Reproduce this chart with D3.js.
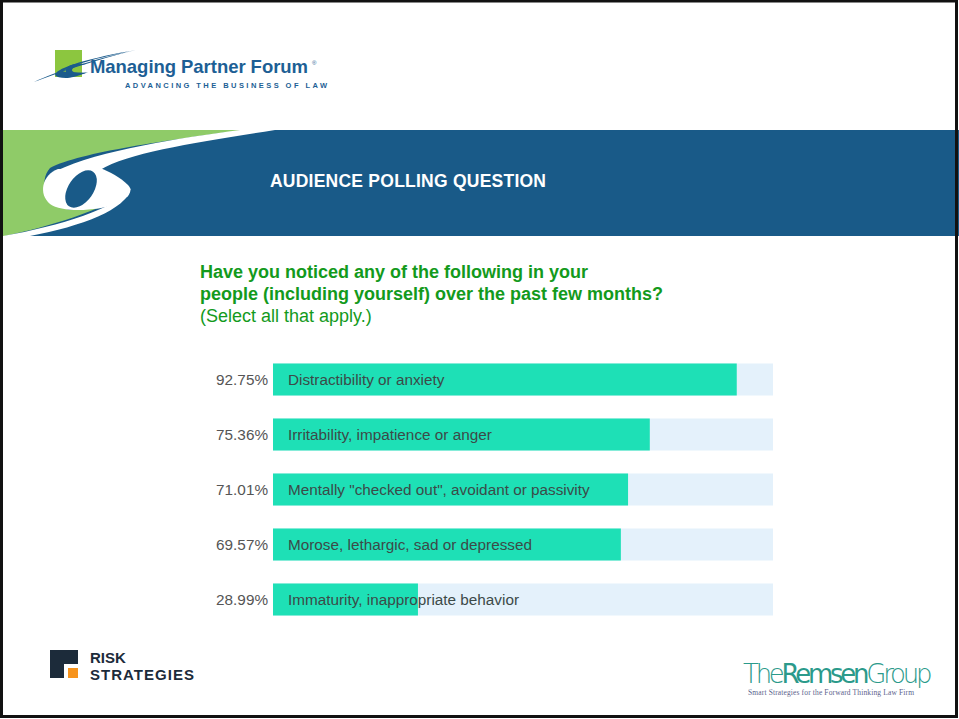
<!DOCTYPE html>
<html>
<head>
<meta charset="utf-8">
<script src="https://cdn.jsdelivr.net/npm/d3@7"></script>
<style>
  html, body { margin: 0; padding: 0; background: #fff; }
  svg { display: block; }
</style>
</head>
<body>
<svg id="slide" width="959" height="719"></svg>
<script>
// Poll answers and the share of respondents who picked each one
const categories = [
  "Distractibility or anxiety",
  "Irritability, impatience or anger",
  "Mentally \"checked out\", avoidant or passivity",
  "Morose, lethargic, sad or depressed",
  "Immaturity, inappropriate behavior"
];
const values = [92.75, 75.36, 71.01, 69.57, 28.99];
const questionLines = [
  "Have you noticed any of the following in your",
  "people (including yourself) over the past few months?"
];
const questionNote = "(Select all that apply.)";
const bannerTitle = "AUDIENCE POLLING QUESTION";

const svg = d3.select("#slide");
const FONT = "Liberation Sans, Arial, Helvetica, sans-serif";

svg.append("rect").attr("x", 0).attr("y", 0).attr("width", 959).attr("height", 719).attr("fill", "#fff");

// ---- top logo: Managing Partner Forum ----
const logo = svg.append("g");
logo.append("rect").attr("x", 55).attr("y", 50).attr("width", 27).attr("height", 27).attr("fill", "#8cc63f");
logo.append("path")
  .attr("d", "M34,82 C60,72 95,60 136,50 C100,56 70,64 60,70 C52,74 54,78 66,78 C70,78 78,76 86,73 C78,72 66,73 62,71 C70,66 95,58 136,50 C90,60 55,72 34,82 Z")
  .attr("fill", "#1b5b8c");
logo.append("path")
  .attr("d", "M86,64 C74,62 64,66 66,72 C68,76 80,76 88,72 C80,74 72,73 72,70 C72,67 80,65 86,64 Z")
  .attr("fill", "#1b5b8c");
logo.append("text").attr("x", 90).attr("y", 73)
  .attr("font-family", FONT).attr("font-weight", "bold").attr("font-size", 18.5)
  .attr("fill", "#1d5f95").attr("textLength", 218).text("Managing Partner Forum");
logo.append("text").attr("x", 312).attr("y", 65)
  .attr("font-family", FONT).attr("font-size", 6).attr("fill", "#1d5f95").text("®");
logo.append("text").attr("x", 125).attr("y", 88)
  .attr("font-family", FONT).attr("font-weight", "bold").attr("font-size", 7.5)
  .attr("fill", "#1d5f95").attr("textLength", 204).attr("letter-spacing", 2)
  .text("ADVANCING THE BUSINESS OF LAW");

// ---- banner with the green field and white S swoosh ----
const banner = svg.append("g");
banner.append("rect").attr("x", 0).attr("y", 130).attr("width", 959).attr("height", 106).attr("fill", "#195a88");
banner.append("path")
  .attr("d", "M0,130 L244,130 C170,140 80,152 50,168 C38,182 46,204 70,210 C95,206 120,198 130,190 C100,212 50,226 5,236 L0,236 Z")
  .attr("fill", "#8fcb68");
// upper arm of the swoosh
banner.append("path")
  .attr("d", "M240,130 L275,130 C200,142 130,152 100,170 L56,171 C100,150 180,138 240,130 Z")
  .attr("fill", "#fff");
// loop of the S, rounded at its right end
banner.append("path")
  .attr("d", "M58,169 C42,175 38,194 50,204 C62,213 98,211 116,204 C128,199 134,191 128,185 C120,177 110,172 100,168 Z")
  .attr("fill", "#fff");
// tail of the swoosh
banner.append("path")
  .attr("d", "M131,188 C118,208 60,226 3,236 L30,236 C82,226 126,210 131,188 Z")
  .attr("fill", "#fff");
// blue eye inside the loop
banner.append("ellipse").attr("cx", 81).attr("cy", 189).attr("rx", 21).attr("ry", 12.5)
  .attr("transform", "rotate(-55 81 189)").attr("fill", "#195a88");
banner.append("text").attr("x", 270).attr("y", 187)
  .attr("font-family", FONT).attr("font-weight", "bold").attr("font-size", 17.5)
  .attr("fill", "#fff").attr("textLength", 276).text(bannerTitle);

// ---- question ----
const q = svg.append("g").attr("font-family", FONT).attr("fill", "#139a1c");
questionLines.forEach((line, i) => {
  q.append("text").attr("x", 200).attr("y", 278 + i * 22)
    .attr("font-weight", "bold").attr("font-size", 18).text(line);
});
q.append("text").attr("x", 200).attr("y", 322).attr("font-size", 18).text(questionNote);

// ---- bar chart ----
const x = d3.scaleLinear().domain([0, 100]).range([273, 773]);
const y = d3.scaleBand().domain(categories).range([352, 627])
  .paddingInner(0.418).paddingOuter(0.209);

const chart = svg.append("g").attr("font-family", FONT);
const rows = chart.selectAll("g.row")
  .data(categories.map((c, i) => ({ label: c, value: values[i] })))
  .join("g").attr("class", "row");

rows.append("rect")
  .attr("x", x(0)).attr("y", d => y(d.label))
  .attr("width", x(100) - x(0)).attr("height", y.bandwidth())
  .attr("fill", "#e4f1fb");
rows.append("rect")
  .attr("x", x(0)).attr("y", d => y(d.label))
  .attr("width", d => x(d.value) - x(0)).attr("height", y.bandwidth())
  .attr("fill", "#1ee0b6");
rows.append("text")
  .attr("x", x(0) + 15).attr("y", d => y(d.label) + y.bandwidth() / 2 + 5)
  .attr("font-size", 15.3).attr("fill", "#3c4a48").text(d => d.label);
rows.append("text")
  .attr("x", x(0) - 5).attr("y", d => y(d.label) + y.bandwidth() / 2 + 5)
  .attr("text-anchor", "end").attr("font-size", 15.3).attr("fill", "#555")
  .text(d => d3.format(".2f")(d.value) + "%");

// ---- footer logos ----
const risk = svg.append("g");
risk.append("path").attr("d", "M50,650 L78,650 L78,664 L64,664 L64,678 L50,678 Z").attr("fill", "#1c2b3a");
risk.append("rect").attr("x", 68).attr("y", 668).attr("width", 10).attr("height", 10).attr("fill", "#f7941d");
risk.append("text").attr("x", 90).attr("y", 663).attr("font-family", FONT).attr("font-weight", "bold")
  .attr("font-size", 15).attr("fill", "#1c2b3a").text("RISK");
risk.append("text").attr("x", 90).attr("y", 680).attr("font-family", FONT).attr("font-weight", "bold")
  .attr("font-size", 15).attr("fill", "#1c2b3a").attr("textLength", 104).text("STRATEGIES");

const rem = svg.append("text").attr("x", 743).attr("y", 683)
  .attr("font-family", "DejaVu Sans, sans-serif").attr("font-size", 26)
  .attr("fill", "#2b9a8b").attr("textLength", 188).attr("letter-spacing", -1.5);
rem.append("tspan").attr("font-weight", 200).text("The");
rem.append("tspan").attr("font-weight", "normal").text("Remsen");
rem.append("tspan").attr("font-weight", 200).text("Group");
svg.append("text").attr("x", 748).attr("y", 695)
  .attr("font-family", "Liberation Serif, serif").attr("font-size", 7.5)
  .attr("fill", "#5c5f8c").attr("textLength", 166).text("Smart Strategies for the Forward Thinking Law Firm");

// slide border
svg.append("rect").attr("x", 1.5).attr("y", 1).attr("width", 955).attr("height", 715.5)
  .attr("fill", "none").attr("stroke", "#111").attr("stroke-width", 3);
</script>
</body>
</html>
